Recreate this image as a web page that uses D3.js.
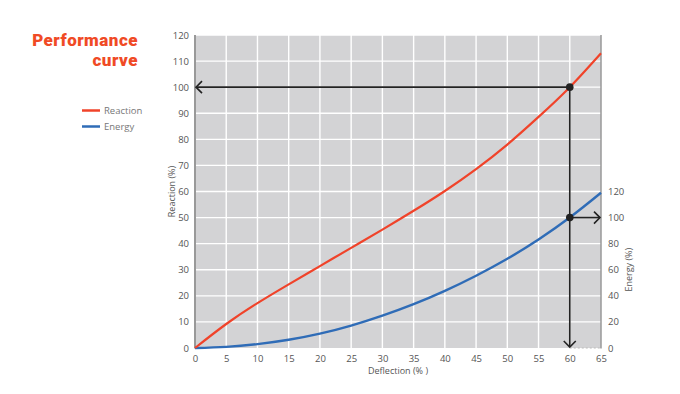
<!DOCTYPE html>
<html><head><meta charset="utf-8">
<script src="https://cdn.jsdelivr.net/npm/d3@7"></script>
<style>body{margin:0;background:#fff}svg{display:block}</style>
</head><body><svg id="c" width="680" height="394"></svg>
<script>
const deflection = [0,5,10,15,20,25,30,35,40,45,50,55,60,65];
const reaction   = [0,9.2,17.2,24.4,31.4,38.4,45.4,52.6,60.2,68.6,78.0,88.6,100,113];
const energy     = [0,0.9,3,6.3,11,17.2,24.8,33.6,43.8,55.4,68.4,83.2,100,119];
const xTicks = [0,5,10,15,20,25,30,35,40,45,50,55,60,65];
const yTicks = [0,10,20,30,40,50,60,70,80,90,100,110,120];
const eTicks = [0,20,40,60,80,100,120];
const marker = {x:60, reaction:100, energy:100};

const svg = d3.select("#c");
const L=195,R=601,T=35,B=348;
const x = d3.scaleLinear().domain([0,65]).range([L,R]);
const y = d3.scaleLinear().domain([0,120]).range([B,T]);
const yE = d3.scaleLinear().domain([0,240]).range([B,T]);
const font = "'Open Sans', sans-serif";

svg.append("rect").attr("x",L).attr("y",T).attr("width",R-L).attr("height",B-T).attr("fill","#d3d3d5");
const g = svg.append("g");
xTicks.slice(1,-1).forEach(t=>g.append("line").attr("x1",x(t)).attr("x2",x(t)).attr("y1",T).attr("y2",B).attr("stroke","#fff").attr("stroke-width",1.4));
yTicks.slice(1).forEach(t=>g.append("line").attr("x1",L).attr("x2",R).attr("y1",y(t)).attr("y2",y(t)).attr("stroke","#fff").attr("stroke-width",1.4));
svg.append("line").attr("x1",x(60)).attr("x2",R).attr("y1",B).attr("y2",B).attr("stroke","#bbb").attr("stroke-dasharray","2,2");
svg.append("line").attr("x1",L).attr("x2",L).attr("y1",T).attr("y2",B+0.5).attr("stroke","#999").attr("stroke-width",2);
svg.append("line").attr("x1",R).attr("x2",R).attr("y1",T).attr("y2",B+0.5).attr("stroke","#999").attr("stroke-width",1.5);

// axes
const ax = svg.append("g").attr("transform",`translate(0,${B})`).call(d3.axisBottom(x).tickValues(xTicks).tickSize(0).tickPadding(7));
const ay = svg.append("g").attr("transform",`translate(${L-3},0)`).call(d3.axisLeft(y).tickValues(yTicks).tickSize(0).tickPadding(3));
const ae = svg.append("g").attr("transform",`translate(${R+4},0)`).call(d3.axisRight(yE).tickValues(eTicks).tickSize(0).tickPadding(3));
[ax,ay,ae].forEach(a=>{a.select(".domain").remove();a.selectAll("text").attr("font-family",font).attr("font-size",9.5).attr("fill","#555");});

svg.append("text").attr("x",398).attr("y",374).attr("text-anchor","middle").attr("font-family",font).attr("font-size",9).attr("fill","#555").text("Deflection (% )");
svg.append("text").attr("transform",`translate(175,${(T+B)/2}) rotate(-90)`).attr("text-anchor","middle").attr("font-family",font).attr("font-size",9).attr("fill","#555").text("Reaction (%)");
svg.append("text").attr("transform",`translate(632,${(yE(120)+B)/2}) rotate(-90)`).attr("text-anchor","middle").attr("font-family",font).attr("font-size",9).attr("fill","#555").text("Energy (%)");

// curves
const line = d3.line().curve(d3.curveNatural);
svg.append("path").attr("d",line(deflection.map((d,i)=>[x(d),yE(energy[i])]))).attr("fill","none").attr("stroke","#2f6cb7").attr("stroke-width",2.4);
svg.append("path").attr("d",line(deflection.map((d,i)=>[x(d),y(reaction[i])]))).attr("fill","none").attr("stroke","#f0432a").attr("stroke-width",2.2);

// arrows
const k="#222";
const mx=x(marker.x), my=y(marker.reaction), me=yE(marker.energy);
const ln=(a,b,c,d)=>svg.append("line").attr("x1",a).attr("y1",b).attr("x2",c).attr("y2",d).attr("stroke",k).attr("stroke-width",1.6);
const pl=pts=>svg.append("polyline").attr("points",pts.map(p=>p.join(",")).join(" ")).attr("fill","none").attr("stroke",k).attr("stroke-width",1.6);
ln(mx,my,L+1,my); pl([[L+7,my-6],[L+1,my],[L+7,my+6]]);
ln(mx,my,mx,B-1); pl([[mx-6,B-7],[mx,B-1],[mx+6,B-7]]);
ln(mx,me,R-1,me); pl([[R-7,me-6],[R-1,me],[R-7,me+6]]);
svg.append("circle").attr("cx",mx).attr("cy",my).attr("r",3.8).attr("fill",k);
svg.append("circle").attr("cx",mx).attr("cy",me).attr("r",3.8).attr("fill",k);

// title & legend
const tf="Roboto, sans-serif";
[["Performance",46],["curve",66]].forEach(([t,yy])=>
  svg.append("text").attr("x",138).attr("y",yy).attr("text-anchor","end").attr("font-family",tf).attr("font-weight",900).attr("font-size",17).attr("letter-spacing",0.5).attr("fill","#f04a25").text(t));
const leg=[["Reaction","#f0432a",110.5],["Energy","#2f6cb7",126.5]];
leg.forEach(([t,c,yy])=>{
  svg.append("line").attr("x1",82).attr("x2",100).attr("y1",yy).attr("y2",yy).attr("stroke",c).attr("stroke-width",2.5);
  svg.append("text").attr("x",104).attr("y",yy+3.5).attr("font-family",font).attr("font-size",9.5).attr("fill","#777").text(t);
});
</script></body></html>
